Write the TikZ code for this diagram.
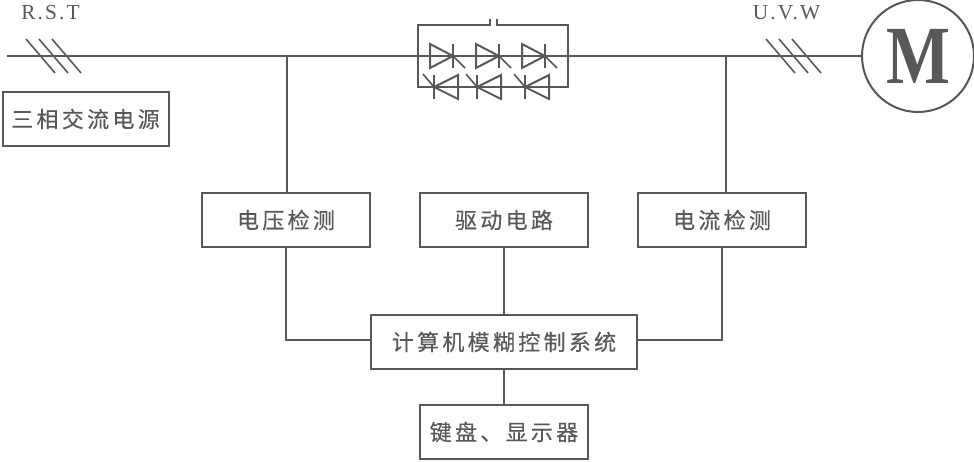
\documentclass[tikz,border=0pt]{standalone}
\usepackage{fontspec}
\newfontfamily\cjkfont[LetterSpace=15,FakeBold=0.3]{Noto Sans CJK SC}
\newfontfamily\latinfont[LetterSpace=10]{Liberation Serif}
\newfontfamily\motorfont{Liberation Serif}
\usetikzlibrary{positioning}
\definecolor{linegray}{HTML}{595757}
\newcommand{\thyrforward}[2]{  % #1 = anode coordinate, #2 = name
	\coordinate (#2) at #1;
	\draw[wire] (#2) ++(0,-12) -- ++(23,12) -- ++(-23,12) -- cycle;
	\draw[wire] (#2) ++(23,-12) -- ++(0,24);
	\draw[thinwire] (#2) ++(23,0) -- ++(12,12);
}
\newcommand{\thyrbackward}[2]{  % #1 = cathode coordinate, #2 = name
	\coordinate (#2) at #1;
	\draw[wire] (#2) -- ++(24,-12) -- ++(0,24) -- cycle;
	\draw[wire] (#2) ++(0,-12) -- ++(0,24);
	\draw[thinwire] (#2) -- ++(-11,-13);
}
\newcommand{\tripleslash}[2]{  % #1 = upper end of first stroke, #2 = name
	\coordinate (#2) at #1;
	\foreach \dx in {0,13,26}
		\draw[thinwire] (#2) ++(\dx,0) -- ++(29,34);
}

\begin{document}
\begin{tikzpicture}[
					x=0.75pt, y=-0.75pt,
					wire/.style={draw=linegray, line width=1.5pt},
					thinwire/.style={draw=linegray, line width=1.2pt},
					block/.style={draw=linegray, line width=1.5pt, outer sep=0pt, inner sep=0pt, text=linegray,
						minimum height=40.5pt, minimum width=126pt, font=\cjkfont\fontsize{16.5pt}{18pt}\selectfont},
					phaselabel/.style={text=linegray, inner sep=0pt, font=\latinfont\fontsize{16pt}{18pt}\selectfont}
					]
					\useasboundingbox (0,0) rectangle (974,461);

					\node[block] at (504,220) (drive) {驱动电路};
					\node[block, left=37.5pt of drive] (voltdet) {电压检测};
					\node[block, right=37.5pt of drive] (currdet) {电流检测};
					\node[block, minimum width=199.5pt] at (504,342) (fuzzy) {计算机模糊控制系统};
					\node[block, below=27pt of fuzzy] (keypad) {键盘、显示器};
					\node[block, minimum width=124.5pt] at (85.5,119) (source) {三相交流电源};
					\node[draw=linegray, line width=1.5pt, circle, minimum size=84pt, inner sep=0pt, outer sep=0pt] at (918,56) (motor) {};
					\node[text=linegray, inner sep=0pt, xscale=.82, font=\motorfont\bfseries\fontsize{62pt}{62pt}\selectfont] at (motor.center) (motorname) {M};
					\node[phaselabel] at (50.5,13) (inlabel) {R.S.T};
					\node[phaselabel] at (786.5,13) (outlabel) {U.V.W};

					% main line
					\coordinate (linestart) at (7,56);
					\coordinate (tapv) at (287,56);
					\coordinate (tapc) at (726,56);
					\draw[wire] (linestart) -- (motor.west);
					\tripleslash{(26,39)}{slashin};
					\tripleslash{(766,39)}{slashout};

					% bridge of thyristors
					\coordinate (bridgeleft) at (418,56);
					\coordinate (bridgeright) at (568,56);
					\coordinate (gapleft) at (490,19);
					\coordinate (gapright) at (497,19);
					\draw[wire] (gapleft) -- (gapleft |- 0,25) -- (bridgeleft |- 0,25) -- (bridgeleft |- 0,87) -- (bridgeright |- 0,87) -- (bridgeright |- 0,25) -- (gapright |- 0,25) -- (gapright);
					\foreach \xa/\nm in {430/a,476/b,522/c}
						\thyrforward{(\xa,56)}{fw\nm};
					\foreach \xa/\nm in {434/a,477/b,525/c}
						\thyrbackward{(\xa,87)}{bw\nm};

					% Connections
					\draw[wire] (tapv) -- (tapv |- voltdet.north);
					\draw[wire] (tapc) -- (tapc |- currdet.north);
					\draw[wire] (voltdet.south) |- ([yshift=1.5pt]fuzzy.west);
					\draw[wire] (currdet.south) |- ([yshift=1.5pt]fuzzy.east);
					\draw[wire] (drive) -- (fuzzy);
					\draw[wire] (fuzzy) -- (keypad);
				\end{tikzpicture}
\end{document}
